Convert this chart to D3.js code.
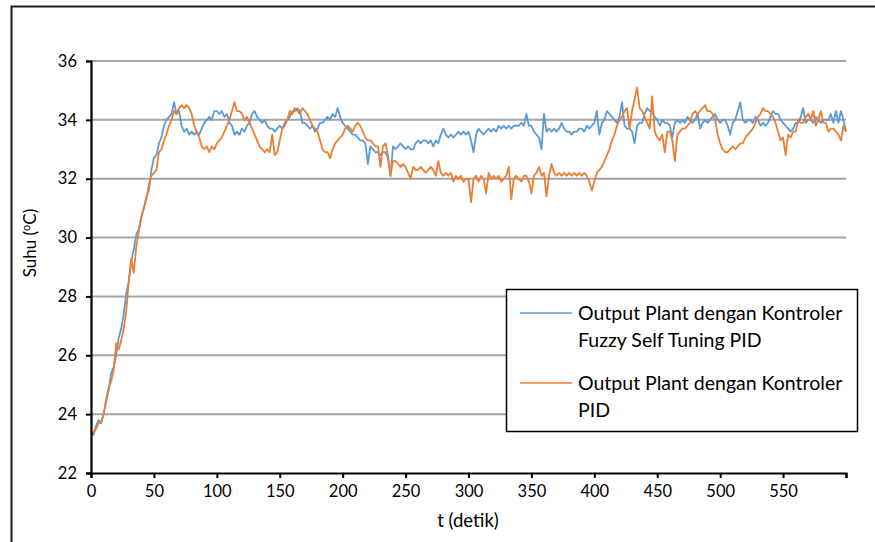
<!DOCTYPE html>
<html><head><meta charset="utf-8">
<script src="https://cdn.jsdelivr.net/npm/d3@7"></script>
<style>body{margin:0;background:#fff}svg{display:block}text{font-family:Lato,"Open Sans",sans-serif;fill:#000}</style>
</head><body>
<svg id="c" width="875" height="542"></svg>
<script>
// time step of samples (seconds)
const step = 2;
const xTicks = [0,50,100,150,200,250,300,350,400,450,500,550];
const yTicks = [22,24,26,28,30,32,34,36];
const seriesNames = ["Output Plant dengan Kontroler|Fuzzy Self Tuning PID", "Output Plant dengan Kontroler|PID"];
const seriesColors = ["#5b9bd5", "#ed7d31"];
const fuzzyPID = [
23.3,23.3,23.6,23.8,23.7,24.0,24.4,24.8,25.4,25.6,
26.0,26.6,26.9,27.4,28.1,28.5,29.2,29.6,30.1,30.3,
30.7,31.0,31.4,31.6,32.3,32.7,32.8,33.2,33.4,33.8,
34.0,34.1,34.2,34.6,34.2,34.3,33.8,33.6,33.7,33.5,
33.6,33.5,33.6,33.5,33.7,33.9,34.0,34.1,34.0,34.3,
34.3,34.2,34.3,34.1,34.2,33.9,33.8,33.5,33.6,33.5,
33.7,33.6,33.8,33.9,34.2,34.3,34.1,34.0,33.9,34.0,
33.8,33.7,33.7,33.6,33.7,33.8,33.7,33.8,34.0,34.1,
34.3,34.3,34.4,34.3,33.9,33.9,33.8,33.7,33.8,33.6,
33.7,33.9,33.9,34.0,34.1,34.0,34.2,34.1,34.4,34.1,
33.9,33.8,33.7,33.6,33.5,33.5,33.4,33.3,33.3,33.2,
32.5,33.1,33.0,32.9,32.9,32.8,32.9,32.9,32.7,32.1,
33.1,33.0,33.1,33.2,33.1,33.0,33.1,33.0,33.0,33.2,
33.3,33.2,33.3,33.3,33.2,33.3,33.1,33.3,33.2,33.5,
33.7,33.5,33.4,33.5,33.4,33.5,33.6,33.5,33.6,33.5,
33.6,33.3,32.9,33.5,33.7,33.6,33.5,33.6,33.7,33.6,
33.7,33.6,33.8,33.7,33.8,33.7,33.8,33.7,33.8,33.8,
33.8,33.9,33.8,34.2,33.8,33.8,33.6,33.5,33.4,33.0,
34.2,33.6,33.7,33.6,33.7,33.6,33.7,33.9,33.7,33.6,
33.6,33.5,33.6,33.6,33.7,33.7,33.6,33.8,33.7,33.8,
33.9,34.3,33.5,33.9,34.0,34.3,34.2,34.1,34.0,33.9,
34.1,34.6,33.8,33.7,33.7,33.6,33.2,33.8,33.9,33.9,
34.2,34.4,34.3,34.3,34.1,34.0,33.8,34.0,33.9,33.9,
33.8,33.4,33.9,34.0,33.9,34.0,33.9,34.1,34.0,33.9,
34.0,34.2,33.7,33.9,34.0,33.9,34.0,34.1,34.2,34.0,
33.9,34.0,34.0,33.8,33.5,33.9,34.0,34.3,34.6,34.0,
33.9,34.0,34.0,33.9,34.1,34.0,33.8,33.9,33.8,33.9,
34.1,34.3,34.2,34.2,34.0,33.9,33.8,33.7,33.6,33.7,
33.9,33.9,34.1,34.4,33.9,34.0,34.0,33.9,34.1,34.0,
33.9,34.0,34.0,34.0,34.2,33.9,34.3,33.9,34.3,34.0,
33.6];
const plainPID = [
23.3,23.4,23.5,23.7,23.7,24.0,24.5,24.9,25.1,25.5,
26.4,26.2,26.5,26.9,27.5,28.5,29.3,28.8,29.7,30.2,
30.7,31.0,31.3,31.8,32.1,32.2,32.3,32.9,33.0,33.3,
33.5,33.8,34.0,34.3,34.2,34.4,34.5,34.4,34.5,34.4,
34.2,33.8,33.6,33.4,33.1,33.0,33.1,32.9,33.1,33.0,
33.2,33.3,33.4,33.6,33.8,34.0,34.3,34.6,34.3,34.3,
34.2,34.0,34.1,33.9,33.7,33.5,33.3,33.1,33.0,32.9,
33.0,32.9,33.5,32.8,32.9,33.3,33.7,33.9,34.0,34.3,
34.2,34.4,34.3,34.2,34.4,34.3,34.2,34.0,33.8,33.7,
33.6,33.3,33.0,32.9,32.9,32.7,33.0,33.2,33.3,33.4,
33.5,33.7,33.8,33.7,33.6,33.8,33.9,33.8,33.6,33.4,
33.3,33.3,33.2,33.1,33.1,32.4,33.1,33.2,32.8,32.1,
32.6,32.6,32.5,32.4,32.5,32.4,32.2,32.0,32.4,32.3,
32.3,32.4,32.3,32.2,32.3,32.4,32.3,32.1,32.6,32.2,
32.1,32.2,32.1,32.2,31.9,32.1,32.0,32.1,31.9,32.0,
32.0,31.2,32.0,32.1,31.9,32.1,32.0,31.5,32.2,32.0,
32.1,32.0,32.1,31.9,32.0,32.1,32.4,31.3,32.0,32.1,
32.0,31.9,32.1,32.1,31.9,31.5,32.1,32.2,32.4,32.1,
32.2,31.4,32.1,32.5,32.2,32.1,32.2,32.1,32.2,32.1,
32.2,32.1,32.2,32.1,32.2,32.1,32.2,32.1,31.9,31.6,
31.9,32.2,32.3,32.4,32.6,32.8,33.0,33.3,33.5,33.8,
34.0,34.1,34.3,34.4,33.7,34.3,34.7,35.1,34.4,34.3,
34.1,33.9,33.7,34.8,33.6,33.4,33.3,33.5,32.9,33.6,
33.6,33.3,32.6,33.5,33.6,33.7,33.7,33.8,33.9,34.2,
34.3,34.2,34.3,34.4,34.5,34.3,34.3,34.2,34.0,33.5,
33.2,33.0,32.9,32.9,33.0,33.1,33.0,33.1,33.2,33.2,
33.4,33.5,33.6,33.7,33.9,34.1,34.2,34.4,34.3,34.3,
34.2,34.1,33.9,33.6,33.3,33.4,32.8,33.5,33.4,33.6,
33.6,34.0,33.9,33.9,34.1,34.2,34.0,34.3,33.8,34.0,
34.3,33.9,33.9,33.6,33.7,33.7,33.6,33.5,33.3,33.8,
33.6];

const svg = d3.select("#c");
// outer frame
svg.append("rect").attr("x",11.5).attr("y",6.5).attr("width",900).attr("height",600)
  .attr("fill","none").attr("stroke","#1a1a1a").attr("stroke-width",2);

const x = d3.scaleLinear().domain([0,600]).range([91,846]);
const y = d3.scaleLinear().domain([22,36]).range([473,61]);

// gridlines
svg.append("g").selectAll("line").data(yTicks.filter(v=>v>22)).join("line")
  .attr("x1",x(0)).attr("x2",x(600)).attr("y1",d=>y(d)).attr("y2",d=>y(d))
  .attr("stroke","#a5a5a5").attr("stroke-width",2);

// lines
const line = d3.line().x((d,i)=>x(i*step)).y(d=>y(d));
[fuzzyPID, plainPID].forEach((s,k)=>{
  svg.append("path").datum(s).attr("d",line).attr("fill","none")
    .attr("stroke",seriesColors[k]).attr("stroke-width",1.8).attr("stroke-linejoin","round");
});
// axes
const yAxis = d3.axisLeft(y).tickValues(yTicks).tickSize(5).tickPadding(9).tickFormat(d3.format("d"));
const gy = svg.append("g").attr("transform",`translate(${x(0)},0)`).call(yAxis);
const xAxis = d3.axisBottom(x).tickValues(xTicks.concat([600])).tickSize(5).tickPadding(7)
  .tickFormat(d=> d===600 ? "" : d);
const gx = svg.append("g").attr("transform",`translate(0,${y(22)})`).call(xAxis);
[gx,gy].forEach(g=>{
  g.select(".domain").attr("stroke","#000").attr("stroke-width",2.2);
  g.selectAll(".tick line").attr("stroke","#000").attr("stroke-width",2);
  g.selectAll(".tick text").style("font-family","Lato").style("font-size","16.5px").attr("fill","#000");
});

// axis titles
svg.append("text").attr("x",468).attr("y",527).attr("text-anchor","middle")
  .style("font-size","18.5px").text("t (detik)");
const yt = svg.append("text").attr("transform","translate(36,243) rotate(-90)").attr("text-anchor","middle")
  .style("font-size","17px");
yt.append("tspan").text("Suhu (");
yt.append("tspan").attr("dy",-6).style("font-size","11px").text("o");
yt.append("tspan").attr("dy",6).text("C)");

// legend
const lg = svg.append("g");
lg.append("rect").attr("x",506.5).attr("y",289.5).attr("width",351).attr("height",142)
  .attr("fill","#fff").attr("stroke","#000").attr("stroke-width",1.5);
seriesNames.forEach((n,k)=>{
  const y0 = 313 + k*70;
  lg.append("line").attr("x1",520).attr("x2",572).attr("y1",y0).attr("y2",y0)
    .attr("stroke",seriesColors[k]).attr("stroke-width",1.6);
  n.split("|").forEach((t,j)=>{
    lg.append("text").attr("x",578).attr("y",y0+7+j*26.5).style("font-size","19.5px").text(t);
  });
});
</script>
</body></html>
